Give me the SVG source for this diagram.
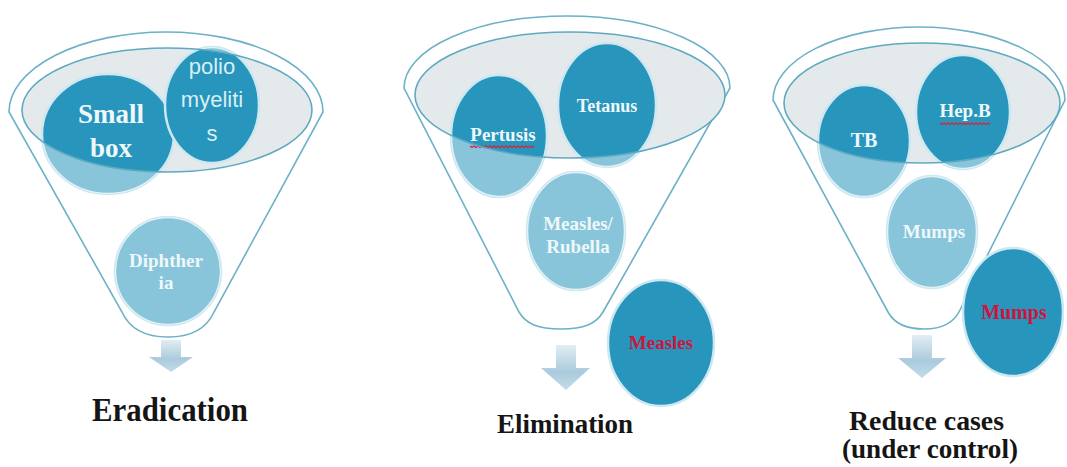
<svg xmlns="http://www.w3.org/2000/svg" width="1067" height="467" viewBox="0 0 1067 467">
<style>
.funnel{fill:#fff;stroke:#6cb1c8;stroke-width:1.6}
.bowl{fill:#e4e9ec}
.rim{fill:none;stroke:#5ea9c2;stroke-width:1.6}
.dot{fill:#2795bc;stroke:#cde8f1;stroke-width:2.5}
.veil{fill:#fff;fill-opacity:0.45}
.t{font-family:"Liberation Serif",serif;font-weight:700;fill:#eef8fb;text-anchor:middle}
.s{font-family:"Liberation Sans",sans-serif;fill:#d8eef5;text-anchor:middle;font-size:22px}
.red{fill:#d0143c}
.big{font-family:"Liberation Serif",serif;font-weight:700;fill:#151515;text-anchor:middle}
.wavy{fill:none;stroke:#e0203a;stroke-width:1.2}
.arrow{fill:url(#ag)}
</style>
<defs>
<linearGradient id="ag" x1="0" y1="0" x2="0" y2="1">
<stop offset="0" stop-color="#e2edf3"/>
<stop offset="0.6" stop-color="#aacbdd"/>
<stop offset="1" stop-color="#c4dbe7"/>
</linearGradient>
<clipPath id="low1"><path clip-rule="evenodd" d="M9,112 A157,80 0 0 1 323,112 L214,312 C206,330 190,337 168,337 C146,337 130,330 122,312 Z M22,110 A145,62 0 1 0 312,110 A145,62 0 1 0 22,110 Z"/></clipPath>
<clipPath id="low2"><path clip-rule="evenodd" d="M404,88 A163,72 0 0 1 730,88 L603,312 C596,324 584,329 561,329 C538,329 526,324 519,312 Z M415,95 A155,63 0 1 0 725,95 A155,63 0 1 0 415,95 Z"/></clipPath>
<clipPath id="low3"><path clip-rule="evenodd" d="M773,100 A146,73 0 0 1 1065,100 L960,310 C954,323 942,329 924,329 C906,329 894,323 888,312 Z M784,103 A138,60 0 1 0 1060,103 A138,60 0 1 0 784,103 Z"/></clipPath>
</defs>
<rect width="1067" height="467" fill="#fff"/>

<g id="funnel-eradication">
<path class="funnel" d="M9,112 A157,80 0 0 1 323,112 L214,312 C206,330 190,337 168,337 C146,337 130,330 122,312 Z"/>
<ellipse class="bowl" cx="167" cy="110" rx="145" ry="62"/>
</g>
<g id="node-smallbox">
<ellipse class="dot" cx="108" cy="134" rx="66" ry="60"/>
<ellipse class="veil" cx="108" cy="134" rx="66" ry="60" clip-path="url(#low1)"/>
<text class="t" x="111" y="123" font-size="27">Small</text>
<text class="t" x="111" y="157" font-size="27">box</text>
</g>
<g id="node-polio">
<ellipse class="dot" cx="212" cy="105" rx="47" ry="58"/>
<ellipse class="veil" cx="212" cy="105" rx="47" ry="58" clip-path="url(#low1)"/>
<text class="s" x="212" y="74">polio</text>
<text class="s" x="212" y="107">myeliti</text>
<text class="s" x="212" y="141">s</text>
</g>
<g id="node-diphtheria">
<ellipse class="dot" cx="168" cy="271" rx="53" ry="54"/>
<ellipse class="veil" cx="168" cy="271" rx="53" ry="54" clip-path="url(#low1)"/>
<text class="t" x="166" y="267" font-size="19">Diphther</text>
<text class="t" x="166" y="289" font-size="19">ia</text>
</g>
<ellipse class="rim" cx="167" cy="110" rx="145" ry="62"/>
<text id="label-eradication" class="big" x="170" y="421" font-size="34" textLength="156" lengthAdjust="spacingAndGlyphs">Eradication</text>

<g id="funnel-elimination">
<path class="funnel" d="M404,88 A163,72 0 0 1 730,88 L603,312 C596,324 584,329 561,329 C538,329 526,324 519,312 Z"/>
<ellipse class="bowl" cx="570" cy="95" rx="155" ry="63"/>
</g>
<g id="node-pertusis">
<ellipse class="dot" cx="499" cy="136" rx="48" ry="61"/>
<ellipse class="veil" cx="499" cy="136" rx="48" ry="61" clip-path="url(#low2)"/>
<text class="t" x="503" y="141" font-size="19">Pertusis</text>
<path class="wavy" d="M470,146 l2,1.5 l2,-1.5 l2,1.5 l2,-1.5 l2,1.5 l2,-1.5 l2,1.5 l2,-1.5 l2,1.5 l2,-1.5 l2,1.5 l2,-1.5 l2,1.5 l2,-1.5 l2,1.5 l2,-1.5 l2,1.5 l2,-1.5 l2,1.5 l2,-1.5 l2,1.5 l2,-1.5 l2,1.5 l2,-1.5 l2,1.5 l2,-1.5 l2,1.5 l2,-1.5 l2,1.5 l2,-1.5 l2,1.5 l2,-1.5"/>
</g>
<g id="node-tetanus">
<ellipse class="dot" cx="607" cy="105" rx="49" ry="62"/>
<ellipse class="veil" cx="607" cy="105" rx="49" ry="62" clip-path="url(#low2)"/>
<text class="t" x="607" y="112" font-size="18">Tetanus</text>
</g>
<g id="node-measles-rubella">
<ellipse class="dot" cx="576" cy="231" rx="49" ry="59"/>
<ellipse class="veil" cx="576" cy="231" rx="49" ry="59" clip-path="url(#low2)"/>
<text class="t" x="578" y="230" font-size="19">Measles/</text>
<text class="t" x="578" y="253" font-size="19">Rubella</text>
</g>
<ellipse class="rim" cx="570" cy="95" rx="155" ry="63"/>
<g id="node-measles">
<ellipse class="dot" cx="661" cy="343" rx="53" ry="63"/>
<text class="t red" x="661" y="349" font-size="19">Measles</text>
</g>
<text id="label-elimination" class="big" x="565" y="433" font-size="27" textLength="136" lengthAdjust="spacingAndGlyphs">Elimination</text>

<g id="funnel-reduce">
<path class="funnel" d="M773,100 A146,73 0 0 1 1065,100 L960,310 C954,323 942,329 924,329 C906,329 894,323 888,312 Z"/>
<ellipse class="bowl" cx="922" cy="103" rx="138" ry="60"/>
</g>
<g id="node-tb">
<ellipse class="dot" cx="864" cy="141" rx="46" ry="56"/>
<ellipse class="veil" cx="864" cy="141" rx="46" ry="56" clip-path="url(#low3)"/>
<text class="t" x="864" y="147" font-size="20">TB</text>
</g>
<g id="node-hepb">
<ellipse class="dot" cx="963" cy="112" rx="47" ry="57"/>
<ellipse class="veil" cx="963" cy="112" rx="47" ry="57" clip-path="url(#low3)"/>
<text class="t" x="965" y="117" font-size="19">Hep.B</text>
<path class="wavy" d="M940,123 l2,1.5 l2,-1.5 l2,1.5 l2,-1.5 l2,1.5 l2,-1.5 l2,1.5 l2,-1.5 l2,1.5 l2,-1.5 l2,1.5 l2,-1.5 l2,1.5 l2,-1.5 l2,1.5 l2,-1.5 l2,1.5 l2,-1.5 l2,1.5 l2,-1.5 l2,1.5 l2,-1.5 l2,1.5 l2,-1.5 l2,1.5"/>
</g>
<g id="node-mumps">
<ellipse class="dot" cx="932" cy="232" rx="45" ry="56"/>
<ellipse class="veil" cx="932" cy="232" rx="45" ry="56" clip-path="url(#low3)"/>
<text class="t" x="934" y="238" font-size="19">Mumps</text>
</g>
<ellipse class="rim" cx="922" cy="103" rx="138" ry="60"/>
<g id="node-mumps-red">
<ellipse class="dot" cx="1013" cy="312" rx="50" ry="64"/>
<text class="t red" x="1014" y="319" font-size="20">Mumps</text>
</g>
<text id="label-reduce" class="big" font-size="28">
<tspan x="930" y="430" textLength="155" lengthAdjust="spacingAndGlyphs">Reduce cases</tspan>
<tspan x="930" y="458" textLength="176" lengthAdjust="spacingAndGlyphs">(under control)</tspan>
</text>

<g id="connectors">
<path class="arrow" d="M161,340 L181,340 L181,357 L193,357 L171,372 L149,357 L161,357 Z"/>
<path class="arrow" d="M556,345 L576,345 L576,368 L590,368 L566,390 L541,368 L556,368 Z"/>
<path class="arrow" d="M912,335 L932,335 L932,358 L946,358 L922,378 L898,358 L912,358 Z"/>
</g>
</svg>
